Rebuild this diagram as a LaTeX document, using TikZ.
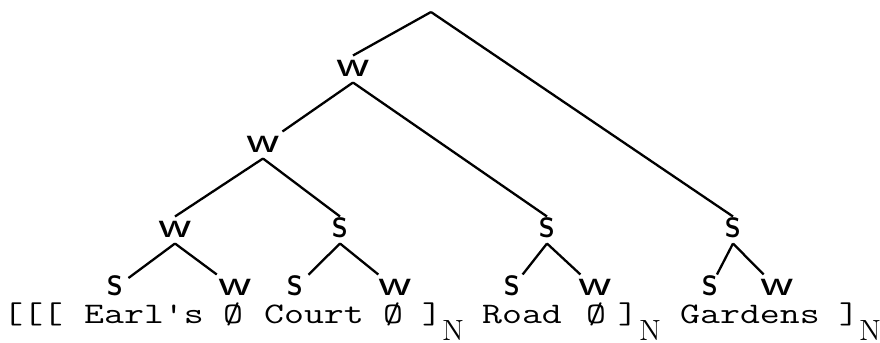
\documentclass[tikz,border=0pt]{standalone}
\usepackage{fontspec}
\usepackage{graphicx}
\usepackage{tikz}

\newcommand{\tw}[1]{\scalebox{1.3}[1]{#1}}
\newcommand{\wlab}{\scalebox{1.45}[1.05]{w}}
\newcommand{\slab}{\scalebox{1.15}[1.25]{s}}

\begin{document}
\begin{tikzpicture}[
  x=0.5pt, y=-0.5pt,
  line width=1.15pt,
  lbl/.style={font=\fontsize{18}{18}\sffamily, inner sep=0pt, outer sep=3pt, text height=7.5pt, text depth=0pt},
  word/.style={font=\fontsize{14.9}{15}\ttfamily, inner sep=0pt, anchor=base},
  sub/.style={font=\fontsize{14.6}{15}\rmfamily, inner sep=0pt, anchor=base}
]
\useasboundingbox (0,0) rectangle (880,343);

% --- Bracketed string -------------------------------------------------------
\node[word] (brk)   at (33,323)  {\tw{[[[}};
\node[word] (earl)  at (144,323) {\tw{Earl's}};
\node[word] (null1) at (233,323) {\tw{Ø}};
\node[word] (court) at (314,323) {\tw{Court}};
\node[word] (null2) at (393,323) {\tw{Ø}};
\node[word] (rb1)   at (432,323) {\tw{]}};
\node[sub]  (n1)    at (453,340) {N};
\node[word] (road)  at (522,323) {\tw{Road}};
\node[word] (null3) at (596,323) {\tw{Ø}};
\node[word] (rb2)   at (628,323) {\tw{]}};
\node[sub]  (n2)    at (650,340) {N};
\node[word] (gard)  at (750,323) {\tw{Gardens}};
\node[word] (rb3)   at (849,323) {\tw{]}};
\node[sub]  (n3)    at (870,340) {N};

% --- Tree labels ------------------------------------------------------------
\coordinate (top) at (431,12);
\node[lbl] (w1) at (353,69)  {\wlab};
\node[lbl] (w2) at (263,145) {\wlab};
\node[lbl] (w3) at (175,230) {\wlab};
\node[lbl] (s1) at (340,230) {\slab};
\node[lbl] (s2) at (547,230) {\slab};
\node[lbl] (s3) at (733,230) {\slab};

\node[lbl] (l1) at (115,288) {\slab};
\node[lbl] (l2) at (235,288) {\wlab};
\node[lbl] (l3) at (295,288) {\slab};
\node[lbl] (l4) at (395,288) {\wlab};
\node[lbl] (l5) at (512,288) {\slab};
\node[lbl] (l6) at (595,288) {\wlab};
\node[lbl] (l7) at (710,288) {\slab};
\node[lbl] (l8) at (777,288) {\wlab};

% --- Branches ---------------------------------------------------------------
\draw (top) -- (w1.north);
\draw (top) -- (s3.north);
\draw (w1.south) -- (w2);
\draw (w1.south) -- (s2.north);
\draw (w2.south) -- (w3.north);
\draw (w2.south) -- (s1.north);

\draw (w3.south) -- (l1);
\draw (w3.south) -- (l2);
\draw (s1.south) -- (l3);
\draw (s1.south) -- (l4);
\draw (s2.south) -- (l5);
\draw (s2.south) -- (l6);
\draw (s3.south) -- (l7);
\draw (s3.south) -- (l8);

\end{tikzpicture}
\end{document}
